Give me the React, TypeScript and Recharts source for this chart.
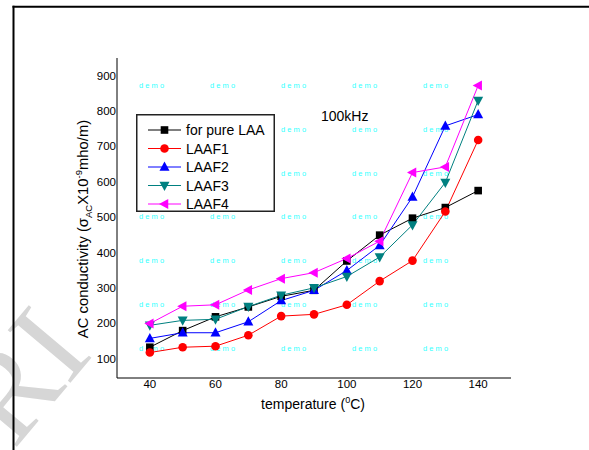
import React from 'react';
import { LineChart, Line, XAxis, YAxis, Legend, Label } from 'recharts';

const temperatures = [40, 50, 60, 70, 80, 90, 100, 110, 120, 130, 140];
const pureLAA = [132, 179, 218, 246, 276, 293, 376, 449, 497, 527, 575];
const laaf1 = [117, 132, 135, 166, 220, 225, 252, 319, 377, 516, 718];
const laaf2 = [157, 173, 173, 204, 264, 293, 349, 420, 557, 758, 790];
const laaf3 = [194, 208, 211, 247, 279, 300, 332, 387, 478, 598, 830];
const laaf4 = [199, 248, 252, 294, 326, 343, 383, 432, 626, 642, 872];
const xTicks = [40, 60, 80, 100, 120, 140];
const yTicks = [100, 200, 300, 400, 500, 600, 700, 800, 900];
const seriesNames = ['for pure LAA', 'LAAF1', 'LAAF2', 'LAAF3', 'LAAF4'];
const annotation = '100kHz';
const watermarkWord = 'demo';

const data = temperatures.map((t, i) => ({
  t,
  pure: pureLAA[i],
  f1: laaf1[i],
  f2: laaf2[i],
  f3: laaf3[i],
  f4: laaf4[i],
}));

type Shape = 'square' | 'circle' | 'up' | 'down' | 'left';

const series: { key: string; name: string; color: string; shape: Shape }[] = [
  { key: 'pure', name: seriesNames[0], color: '#000000', shape: 'square' },
  { key: 'f1', name: seriesNames[1], color: '#ff0000', shape: 'circle' },
  { key: 'f2', name: seriesNames[2], color: '#0000ff', shape: 'up' },
  { key: 'f3', name: seriesNames[3], color: '#008080', shape: 'down' },
  { key: 'f4', name: seriesNames[4], color: '#ff00ff', shape: 'left' },
];

const FONT = '"Liberation Sans", Arial, Helvetica, sans-serif';

function Marker({ cx, cy, shape, color }: { cx: number; cy: number; shape: Shape; color: string }) {
  if (cx == null || cy == null || isNaN(cx) || isNaN(cy)) return null;
  const s = 5;
  switch (shape) {
    case 'square':
      return <rect x={cx - 3.8} y={cy - 3.8} width={7.6} height={7.6} fill={color} />;
    case 'circle':
      return <circle cx={cx} cy={cy} r={4.3} fill={color} />;
    case 'up':
      return <polygon points={`${cx},${cy - s - 0.5} ${cx - s},${cy + s * 0.75} ${cx + s},${cy + s * 0.75}`} fill={color} />;
    case 'down':
      return <polygon points={`${cx - s},${cy - s * 0.75} ${cx + s},${cy - s * 0.75} ${cx},${cy + s + 0.5}`} fill={color} />;
    case 'left':
      return <polygon points={`${cx - s - 0.5},${cy} ${cx + s * 0.75},${cy - s} ${cx + s * 0.75},${cy + s}`} fill={color} />;
  }
  return null;
}

const LegendBox = () => (
  <svg width={139} height={98} style={{ display: 'block' }}>
    <rect x={0.75} y={0.75} width={137.5} height={96.5} fill="#fff" stroke="#222" strokeWidth={1.5} />
    {series.map((s, i) => {
      const y = 16 + i * 18.5;
      return (
        <g key={s.key}>
          <line x1={12} x2={45} y1={y} y2={y} stroke={s.color} strokeWidth={1} />
          <Marker cx={28.5} cy={y} shape={s.shape} color={s.color} />
          <text x={50} y={y + 5} fontSize={14} fontFamily={FONT} fill="#000">
            {s.name}
          </text>
        </g>
      );
    })}
  </svg>
);

const YTitle = () => (
  <text
    x={88}
    y={229}
    transform="rotate(-90, 88, 229)"
    textAnchor="middle"
    fontSize={14.8}
    fontFamily={FONT}
    fill="#000"
  >
    AC conductivity (σ
    <tspan fontSize={9.5} dy={4}>AC</tspan>
    <tspan dy={-4}>X10</tspan>
    <tspan fontSize={9.5} dy={-6}>-9</tspan>
    <tspan dy={6}>mho/m)</tspan>
  </text>
);

const XTitle = () => (
  <text x={313} y={409} textAnchor="middle" fontSize={14} fontFamily={FONT} fill="#000">
    temperature (
    <tspan fontSize={9} dy={-6}>0</tspan>
    <tspan dy={6}>C)</tspan>
  </text>
);

const wmCols = [139, 210, 281, 352, 423];
const wmRows = [85, 129, 173, 216, 260, 304, 348];

export default function App() {
  return (
    <div style={{ position: 'absolute', left: 0, top: 0, width: 589, height: 450, background: '#fff', overflow: 'hidden' }}>
      <svg width={589} height={450} style={{ position: 'absolute', left: 0, top: 0 }}>
        <text
          x={0}
          y={0}
          transform="translate(14,450) rotate(-50)"
          fontSize={125}
          fontFamily='"Liberation Serif", "DejaVu Serif", serif'
          fill="#d6d6d6"
        >
          RI
        </text>
        <line x1={12.5} x2={589} y1={6.7} y2={6.7} stroke="#000" strokeWidth={2} />
        <line x1={13.5} x2={13.5} y1={5.7} y2={450} stroke="#000" strokeWidth={2} />
        {wmRows.map((r) =>
          wmCols.map((c) => (
            <text
              key={`${r}-${c}`}
              x={c}
              y={r + 2.5}
              fontSize={7.5}
              letterSpacing={2.1}
              fontFamily={FONT}
              fill="#33ffff"
            >
              {watermarkWord}
            </text>
          ))
        )}
        <text x={321} y={121} fontSize={14} fontFamily={FONT} fill="#000">
          {annotation}
        </text>
      </svg>
      <div style={{ position: 'absolute', left: 0, top: 0 }}>
        <LineChart width={589} height={450} data={data} margin={{ top: 58, right: 78, bottom: 62, left: 107 }}>
          <XAxis
            dataKey="t"
            type="number"
            domain={[30, 150]}
            ticks={xTicks}
            height={10}
            tickSize={0}
            tickMargin={2}
            axisLine={{ stroke: '#000', strokeWidth: 1 }}
            tick={{ fill: '#000', fontSize: 11.5, fontFamily: FONT }}
          >
            <Label content={XTitle} />
          </XAxis>
          <YAxis
            type="number"
            domain={[45, 950]}
            ticks={yTicks}
            width={10}
            tickSize={0}
            tickMargin={1}
            axisLine={{ stroke: '#000', strokeWidth: 1 }}
            tick={{ fill: '#000', fontSize: 11.5, fontFamily: FONT }}
          >
            <Label content={YTitle} />
          </YAxis>
          <Legend
            layout="horizontal"
            verticalAlign="middle"
            align="center"
            content={LegendBox}
            wrapperStyle={{ position: 'absolute', left: 136, top: 114, width: 139, height: 98 }}
          />
          {series.map((s) => (
            <Line
              key={s.key}
              dataKey={s.key}
              name={s.name}
              stroke={s.color}
              strokeWidth={1}
              isAnimationActive={false}
              dot={(p: any) => <Marker key={`${s.key}-${p.index}`} cx={p.cx} cy={p.cy} shape={s.shape} color={s.color} />}
              activeDot={false}
            />
          ))}
        </LineChart>
      </div>
    </div>
  );
}
